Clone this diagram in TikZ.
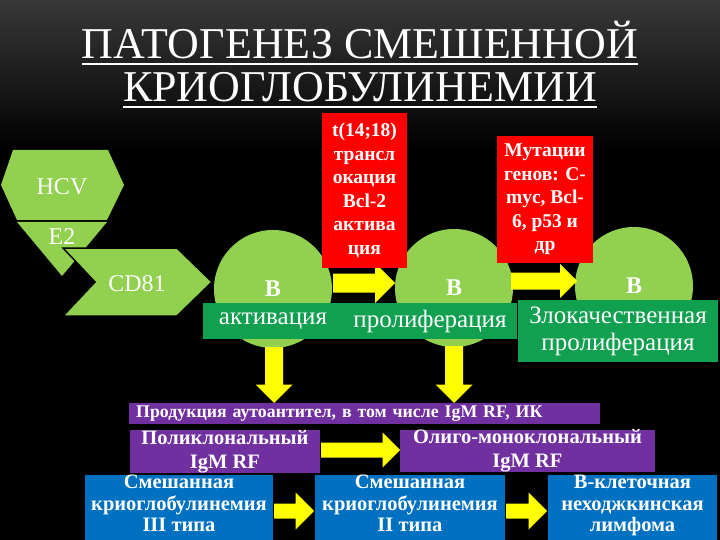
\documentclass[tikz,border=0pt]{standalone}
\usepackage{fontspec}
\setmainfont{Liberation Serif}

\definecolor{leaf}{HTML}{92D050}
\definecolor{grass}{HTML}{10A050}
\definecolor{blood}{HTML}{FF0000}
\definecolor{plum}{HTML}{7030A0}
\definecolor{sea}{HTML}{0070C0}
\definecolor{lemon}{HTML}{FFFF00}

\tikzset{
  title/.style={anchor=base, inner sep=0pt, text=white, font=\fontsize{44}{44}\selectfont},
  tag/.style={inner sep=0pt, text=white, font=\fontsize{24}{24}\selectfont},
  cell/.style={circle, fill=leaf, minimum size=118pt, inner sep=0pt, text=white, font=\fontsize{24}{24}\selectfont\bfseries},
  stage/.style={fill=grass, inner sep=0pt, text=white, align=center, font=\fontsize{25}{27}\selectfont},
  hit/.style={fill=blood, inner sep=0pt, text=white, align=center, font=\fontsize{19.5}{23.5}\selectfont\bfseries},
  igm/.style={fill=plum, inner sep=0pt, text=white, align=center, font=\fontsize{20.5}{24}\selectfont\bfseries},
  outcome/.style={fill=sea, inner sep=0pt, text=white, align=center, text depth=9pt, font=\fontsize{20.5}{21.5}\selectfont\bfseries},
  % block arrow: length / half shaft / half head
  pics/yarrow/.style args={#1/#2/#3}{code={
    \fill[lemon] (0,-#2) -- ({#1-#3},-#2) -- ({#1-#3},-#3) -- (#1,0)
      -- ({#1-#3},#3) -- ({#1-#3},#2) -- (0,#2) -- cycle;
  }}
}

\begin{document}
\begin{tikzpicture}[x=1pt, y=-1pt]
  \useasboundingbox (0,0) rectangle (720,540);
  \clip (0,0) rectangle (720,540);
  \fill[black] (0,0) rectangle (720,540);
  \shade[top color=black!78!white, bottom color=black] (0,0) rectangle (720,150);

  % title
  \node[title] (t1) at (360,59) {ПАТОГЕНЕЗ СМЕШЕННОЙ};
  \node[title] (t2) at (360,102) {КРИОГЛОБУЛИНЕМИИ};
  \draw[white, line width=2.5pt] ([yshift=-5pt]t1.base west) -- ([yshift=-5pt]t1.base east);
  \draw[white, line width=2.5pt] ([yshift=-5pt]t2.base west) -- ([yshift=-5pt]t2.base east);

  % virus and receptor
  \fill[leaf] (13,150) -- (108,150) -- (124,185) -- (107,220) -- (17,220) -- (1,185) -- cycle;
  \fill[leaf] (17,222) -- (107,222) -- (62,276) -- cycle;
  \filldraw[fill=leaf, draw=black, line width=1.5pt] (63,248) -- (177,248) -- (212,282) -- (177,316) -- (63,316) -- (95,282) -- cycle;
  \node[tag] (hcv) at (62,187) {HCV};
  \node[tag] (e2) at (62,237) {E2};
  \node[tag] (cd) at (137,284) {CD81};

  % B cells
  \node[cell] (c1) at (273,289) {В};
  \node[cell] (c2) at (454,288) {В};
  \node[cell] (c3) at (634,286) {В};

  \pic at (333,283) {yarrow=62/9.5/20};
  \pic at (511,281) {yarrow=66/8.5/17};

  % gene events
  \node[hit, minimum width=85pt, minimum height=155pt] (r1) at (364.5,190.5) {t(14;18)\\трансл\\окация\\Bcl-2\\актива\\ция};
  \node[hit, minimum width=96pt, minimum height=127pt] (r2) at (545,199.5) {Мутации\\генов: С-\\myc, Bcl-\\6, p53 и\\др};

  % stages
  \node[stage, minimum width=140pt, minimum height=36pt] (act) at (273,321) {активация};
  \node[stage, minimum width=174pt, minimum height=36pt] (prol) at (430,321) {пролиферация};
  \node[stage, minimum width=200pt, minimum height=62pt] (mal) at (618,331) {Злокачественная\\пролиферация};

  \pic[rotate=-90] at (274,347) {yarrow=56/9/18.5};
  \pic[rotate=-90] at (454,346) {yarrow=57/9/18.5};

  % antibodies
  \node[igm, anchor=west, minimum width=471pt, minimum height=21pt, text width=457pt, inner xsep=7pt, align=left, font=\fontsize{17.8}{20}\selectfont\bfseries] (prod) at (129,413.5) {Продукция аутоантител, в том числе IgM RF, ИК};
  \node[igm, minimum width=190pt, minimum height=39pt] (poly) at (225,451.5) {Поликлональный\\IgM RF};
  \node[igm, minimum width=255pt, minimum height=40pt] (oligo) at (527.5,451) {Олиго-моноклональный\\IgM RF};
  \pic at (321,450) {yarrow=79/7.5/17.5};

  % outcomes
  \node[outcome, minimum width=188pt, minimum height=64pt] (mc3) at (179,508) {Смешанная\\криоглобулинемия\\III типа};
  \node[outcome, minimum width=190pt, minimum height=64pt] (mc2) at (410,508) {Смешанная\\криоглобулинемия\\II типа};
  \node[outcome, minimum width=169pt, minimum height=64pt] (nhl) at (632.5,508) {В-клеточная\\неходжкинская\\лимфома};
  \pic at (274,511) {yarrow=40/7.5/18.5};
  \pic at (506,511) {yarrow=41/7.5/18.5};
\end{tikzpicture}
\end{document}
